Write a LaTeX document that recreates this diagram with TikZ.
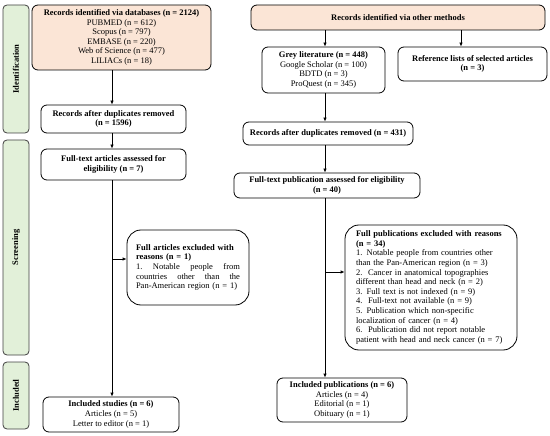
\documentclass[tikz,border=0pt]{standalone}
\usepackage{fontspec}
\setmainfont{Liberation Serif}
\usetikzlibrary{arrows.meta,calc}
\definecolor{peach}{HTML}{FBE5D6}
\definecolor{lgreen}{HTML}{E2F0D9}
\definecolor{barline}{HTML}{404040}
\newcommand{\jline}[1]{\makebox[104pt][s]{#1}}
\begin{document}
\begin{tikzpicture}[x=1pt,y=-1pt,
  box/.style={draw=black, line width=0.8pt, rounded corners=6pt, align=center, inner sep=2pt,
    font=\fontsize{8.5}{9.6}\selectfont},
  peachbox/.style={box, fill=peach},
  exbox/.style={draw=black, line width=0.8pt, rounded corners=14pt, align=left, inner sep=2pt,
    font=\fontsize{8.5}{9.6}\selectfont},
  sidebar/.style={draw=barline, line width=0.8pt, fill=lgreen, rounded corners=4pt, inner sep=0pt},
  sidelabel/.style={rotate=90, font=\fontsize{8.5}{9.6}\selectfont\bfseries},
  arr/.style={line width=0.8pt, -{Latex[length=4pt,width=3.5pt]}},
  ln/.style={line width=0.8pt}]
\useasboundingbox (0,0) rectangle (550,436);

% side bars
\node[sidebar, minimum width=26pt, minimum height=128pt] (bId) at (16,69) {};
\node[sidelabel] (lId) at (bId.center) {Identification};
\node[sidebar, minimum width=26pt, minimum height=215pt] (bSc) at (16,247.5) {};
\node[sidelabel] (lSc) at (bSc.center) {Screening};
\node[sidebar, minimum width=26pt, minimum height=67pt] (bIn) at (16,395.5) {};
\node[sidelabel] (lIn) at (bIn.center) {Included};

% left column
\node[peachbox, minimum width=179pt, minimum height=65pt] (db) at (121.5,37.5)
  {\textbf{Records identified via databases (n = 2124)}\\PUBMED (n = 612)\\Scopus (n = 797)\\EMBASE (n = 220)\\Web of Science (n = 477)\\LILIACs (n = 18)};
\node[box, minimum width=145pt, minimum height=28pt] (rdL) at (113.5,119)
  {\textbf{Records after duplicates removed}\\\textbf{(n = 1596)}};
\node[box, minimum width=145pt, minimum height=31pt] (ftL) at (113.5,164.5)
  {\textbf{Full-text articles assessed for}\\\textbf{eligibility (n = 7)}};
\node[exbox, minimum width=122pt, minimum height=75pt, text width=104pt] (exL) at (188,267.5)
  {\textbf{Full articles excluded with}\\\textbf{reasons (n = 1)}\\
   \jline{1.\hfill Notable\hfill people\hfill from}\\
   \jline{countries\hfill other\hfill than\hfill the}\\
   Pan-American region (n = 1)};
\node[box, minimum width=136pt, minimum height=35pt] (incL) at (111,414.5)
  {\textbf{Included studies (n = 6)}\\Articles (n = 5)\\Letter to editor (n = 1)};

\coordinate (xl) at (112,0);
\draw[arr] (db.south -| xl) -- (rdL.north -| xl);
\draw[arr] (rdL.south -| xl) -- (ftL.north -| xl);
\draw[arr] (ftL.south -| xl) -- (incL.north -| xl);
\coordinate (bL) at (112,259);
\draw[arr] (bL) -- (bL -| exL.west);

% right column
\node[peachbox, minimum width=294pt, minimum height=25pt] (oth) at (398,17.5)
  {\textbf{Records identified via other methods}};
\node[box, minimum width=123pt, minimum height=46pt] (grey) at (323.5,70)
  {\textbf{Grey literature (n = 448)}\\Google Scholar (n = 100)\\BDTD (n = 3)\\ProQuest (n = 345)};
\node[box, minimum width=149pt, minimum height=34pt] (refl) at (472.5,64)
  {\textbf{Reference lists of selected articles}\\\textbf{(n = 3)}};
\node[box, minimum width=170pt, minimum height=23pt] (rdR) at (328,133.5)
  {\textbf{Records after duplicates removed (n = 431)}};
\node[box, minimum width=186pt, minimum height=25pt] (ftR) at (327,185.5)
  {\textbf{Full-text publication assessed for eligibility}\\\textbf{(n = 40)}};
\node[exbox, minimum width=172pt, minimum height=125pt, text width=150pt] (exR) at (431,287.5)
  {\textbf{Full publications excluded with reasons}\\\textbf{(n = 34)}\\
   1. Notable people from countries other\\
   than the Pan-American region (n = 3)\\
   2.\ \ Cancer in anatomical topographies\\
   different than head and neck (n = 2)\\
   3. Full text is not indexed (n = 9)\\
   4.\ \ Full-text not available (n = 9)\\
   5. Publication which non-specific\\
   localization of cancer (n = 4)\\
   6.\ \ Publication did not report notable\\
   patient with head and neck cancer (n = 7)};
\node[box, minimum width=130pt, minimum height=44pt] (incR) at (342,400)
  {\textbf{Included publications (n = 6)}\\Articles (n = 4)\\Editorial (n = 1)\\Obituary (n = 1)};

\coordinate (xm) at (325,0);
\coordinate (xr) at (461,0);
\draw[arr] (oth.south -| xm) -- (grey.north -| xm);
\draw[arr] (oth.south -| xr) -- (refl.north -| xr);
\draw[arr] (grey.south -| xm) -- (rdR.north -| xm);
\draw[arr] (rdR.south -| xm) -- (ftR.north -| xm);
\draw[arr] (ftR.south -| xm) -- (incR.north -| xm);
\coordinate (bR) at (325,272);
\draw[arr] (bR) -- (bR -| exR.west);
\end{tikzpicture}
\end{document}
